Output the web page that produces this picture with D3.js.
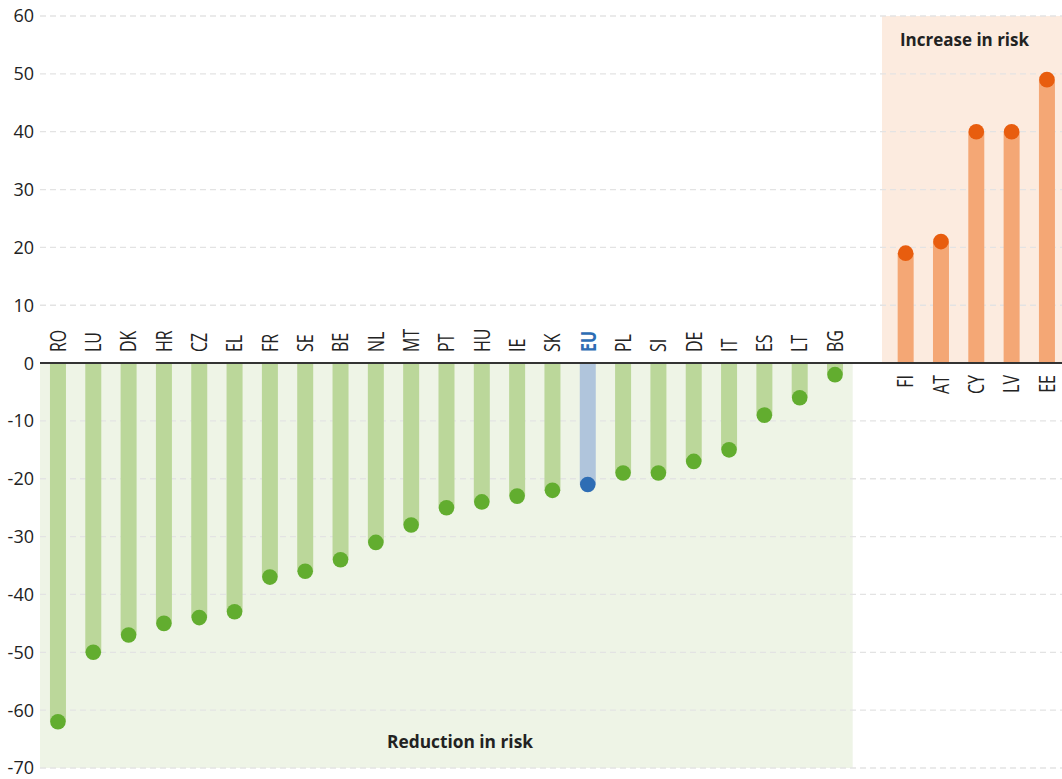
<!DOCTYPE html>
<html>
<head>
<meta charset="utf-8">
<script src="https://cdn.jsdelivr.net/npm/d3@7"></script>
<style>
  html, body { margin: 0; padding: 0; background: #ffffff; }
  svg { display: block; }
  text { font-family: "Open Sans", "Noto Sans", sans-serif; }
</style>
</head>
<body>
<svg id="chart" width="1062" height="779"></svg>
<script>
// ---- Data ----
const reductionCountries = ["RO","LU","DK","HR","CZ","EL","FR","SE","BE","NL","MT","PT","HU","IE","SK","EU","PL","SI","DE","IT","ES","LT","BG"];
const reductionValues    = [-62,-50,-47,-45,-44,-43,-37,-36,-34,-31,-28,-25,-24,-23,-22,-21,-19,-19,-17,-15,-9,-6,-2];
const increaseCountries  = ["FI","AT","CY","LV","EE"];
const increaseValues     = [19,21,40,40,49];
const yTicks = [60,50,40,30,20,10,0,-10,-20,-30,-40,-50,-60,-70];
const reductionLabel = "Reduction in risk";
const increaseLabel = "Increase in risk";

// ---- Build ----
const svg = d3.select("#chart");
const GAP = "__gap__";
const domain = [...reductionCountries, GAP, ...increaseCountries];
const rows = [
  ...reductionCountries.map((c,i)=>({c, v: reductionValues[i], grp: c === "EU" ? "eu" : "red"})),
  ...increaseCountries.map((c,i)=>({c, v: increaseValues[i], grp: "inc"}))
];

const x = d3.scaleBand().domain(domain).range([40.3, 1064.6]).padding(0);
const y = d3.scaleLinear().domain([-70, 60]).range([768, 16]);
const cx = c => x(c) + x.bandwidth()/2;

const colors = {
  red: {bar: "#bbd79a", dot: "#62ad2f"},
  eu:  {bar: "#b0c5dc", dot: "#2e6db4"},
  inc: {bar: "#f4a775", dot: "#e85d0e"}
};

// backgrounds
const bgRedRight = x("BG") + x.bandwidth();
svg.append("rect").attr("x", 40).attr("y", y(0)).attr("width", bgRedRight - 40).attr("height", y(-70) - y(0)).attr("fill", "#eef4e6");
svg.append("rect").attr("x", 882).attr("y", y(60)).attr("width", 1062 - 882).attr("height", y(0) - y(60)).attr("fill", "#fcebdf");

// grid
svg.append("g").selectAll("line").data(yTicks.filter(t => t !== 0)).join("line")
  .attr("x1", 40).attr("x2", 1062).attr("y1", d => y(d)).attr("y2", d => y(d))
  .attr("stroke", "#e3e3e3").attr("stroke-width", 1.3).attr("stroke-dasharray", "6,4");

// y axis labels
svg.append("g").selectAll("text").data(yTicks).join("text")
  .attr("x", 34).attr("y", d => y(d)).attr("dy", "0.36em")
  .attr("text-anchor", "end").attr("font-size", 18).attr("fill", "#222")
  .text(d => d);

// bars
const bw = 16;
svg.append("g").selectAll("rect").data(rows).join("rect")
  .attr("x", d => cx(d.c) - bw/2)
  .attr("y", d => Math.min(y(d.v), y(0)))
  .attr("width", bw)
  .attr("height", d => Math.abs(y(d.v) - y(0)))
  .attr("fill", d => colors[d.grp].bar);

// zero line
svg.append("line").attr("x1", 40).attr("x2", 1062).attr("y1", y(0)).attr("y2", y(0))
  .attr("stroke", "#333").attr("stroke-width", 2);

// dots
svg.append("g").selectAll("circle").data(rows).join("circle")
  .attr("cx", d => cx(d.c)).attr("cy", d => y(d.v)).attr("r", 7.8)
  .attr("fill", d => colors[d.grp].dot);

// category labels
svg.append("g").selectAll("text").data(rows).join("text")
  .attr("transform", d => d.v < 0
      ? `translate(${cx(d.c) + 7.8},${y(0) - 11}) scale(1.37,1) rotate(-90)`
      : `translate(${cx(d.c) + 7.8},${y(0) + 12}) scale(1.37,1) rotate(-90)`)
  .attr("text-anchor", d => d.v < 0 ? "start" : "end")
  .attr("font-size", 16)
  .attr("font-weight", d => d.grp === "eu" ? 700 : 400)
  .attr("fill", d => d.grp === "eu" ? "#2e6db4" : "#222")
  .text(d => d.c);

// group labels
svg.append("text").attr("x", 387).attr("y", 748).attr("font-size", 18).attr("font-weight", 700)
  .attr("fill", "#222").attr("textLength", 146).attr("lengthAdjust", "spacingAndGlyphs").text(reductionLabel);
svg.append("text").attr("x", 900).attr("y", 46).attr("font-size", 18).attr("font-weight", 700)
  .attr("fill", "#222").attr("textLength", 129).attr("lengthAdjust", "spacingAndGlyphs").text(increaseLabel);
</script>
</body>
</html>
